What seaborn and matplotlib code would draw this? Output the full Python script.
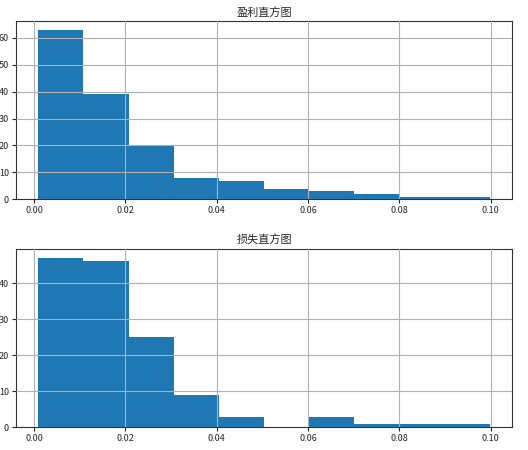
import numpy as np
import pandas as pd
import seaborn as sns
import matplotlib.pyplot as plt

# bin edges shared by both histograms
bin_edges = [0.0009, 0.01079, 0.02068, 0.03057, 0.04046, 0.05035,
             0.06024, 0.07013, 0.08002, 0.08991, 0.0998]
profit_counts = [63, 39, 20, 8, 7, 4, 3, 2, 1, 1]
loss_counts = [47, 46, 25, 9, 3, 0, 3, 1, 1, 1]
titles = ["盈利直方图", "损失直方图"]

edges = np.array(bin_edges)
centers = (edges[:-1] + edges[1:]) / 2
df = pd.DataFrame({"center": centers, "profit": profit_counts, "loss": loss_counts})

sns.set_style("ticks")
plt.rcParams['font.family'] = ['Noto Sans CJK SC', 'DejaVu Sans']
plt.rcParams['axes.unicode_minus'] = False

fig, axes = plt.subplots(2, 1, figsize=(5.28, 4.5), dpi=100)
fig.subplots_adjust(left=0.03, right=0.97, top=0.953, bottom=0.05, hspace=0.28)

for ax, col, title in zip(axes, ["profit", "loss"], titles):
    sns.histplot(data=df, x="center", weights=col, bins=list(bin_edges), ax=ax,
                 color="#1f77b4", alpha=1, linewidth=0)
    ax.set_title(title, fontsize=8, pad=4)
    ax.set_xlabel("")
    ax.set_ylabel("")
    ax.set_xticks([0.0, 0.02, 0.04, 0.06, 0.08, 0.10])
    ax.set_xticklabels(["0.00", "0.02", "0.04", "0.06", "0.08", "0.10"])
    ax.tick_params(labelsize=6.5, length=3, width=0.8, pad=2)
    ax.grid(True, color="#b0b0b0", linewidth=0.8)
    ax.set_axisbelow(False)
    for s in ax.spines.values():
        s.set_linewidth(0.8)
        s.set_color("#333333")
    ax.set_xlim(-0.004, 0.1047)

fig.savefig("out.png")
